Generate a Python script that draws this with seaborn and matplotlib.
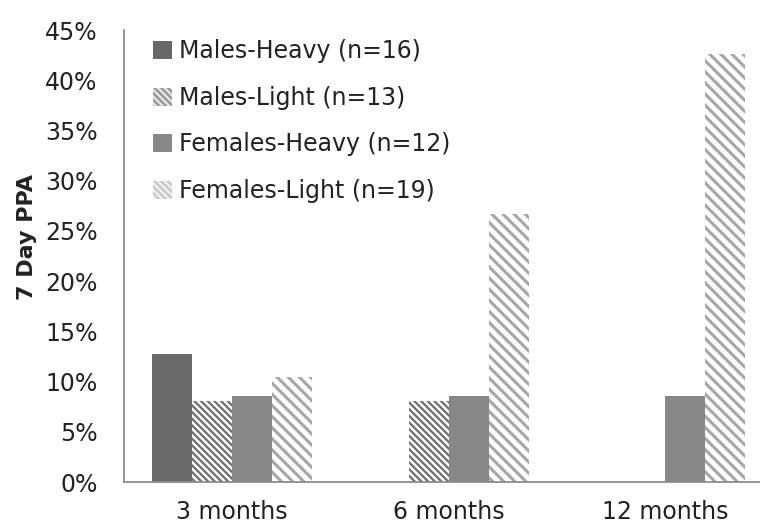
import matplotlib
matplotlib.use("Agg")
import matplotlib.pyplot as plt
from matplotlib.patches import Patch
from matplotlib.ticker import FuncFormatter
import pandas as pd
import seaborn as sns

# Follow-up time points and smoking groups
timepoints = ["3 months", "6 months", "12 months"]
groups = ["Males-Heavy (n=16)", "Males-Light (n=13)",
          "Females-Heavy (n=12)", "Females-Light (n=19)"]

# 7-day point prevalence abstinence (%) per group, one list per group
males_heavy = [12.7, 0.0, 0.0]
males_light = [8.1, 8.1, 0.0]
females_heavy = [8.6, 8.6, 8.6]
females_light = [10.5, 26.7, 42.6]

y_ticks = [0, 5, 10, 15, 20, 25, 30, 35, 40, 45]

rows = []
for grp, vals in zip(groups, [males_heavy, males_light, females_heavy, females_light]):
    for tp, v in zip(timepoints, vals):
        rows.append({"time": tp, "group": grp, "ppa": v})
df = pd.DataFrame(rows)

sns.set_style("white")
plt.rcParams["font.family"] = ["DejaVu Sans"]
plt.rcParams["hatch.linewidth"] = 1.8

fig = plt.figure(figsize=(7.6, 5.23), dpi=100)
ax = fig.add_axes([124 / 760, 1 - 482 / 523, 636 / 760, (482 - 30) / 523])

sns.barplot(data=df, x="time", y="ppa", hue="group", order=timepoints,
            hue_order=groups, width=0.74, gap=0, dodge=True,
            palette=["#666666", "#ffffff", "#858585", "#ffffff"],
            saturation=1, errorbar=None, legend=False, ax=ax)

# per-group fill/hatch styling
styles = [
    dict(face="#6a6a6a", edge="#6a6a6a", hatch=None, hlw=None),
    dict(face="#ffffff", edge="#6e6e6e", hatch="\\" * 5, hlw=1.6),
    dict(face="#878787", edge="#878787", hatch=None, hlw=None),
    dict(face="#ffffff", edge="#a6a6a6", hatch="\\" * 3, hlw=2.2),
]
for cont, st in zip(ax.containers, styles):
    for bar in cont:
        bar.set_facecolor(st["face"])
        bar.set_edgecolor(st["edge"])
        bar.set_linewidth(0)
        if st["hatch"]:
            bar.set_hatch(st["hatch"])
            if hasattr(bar, "set_hatch_linewidth"):
                bar.set_hatch_linewidth(st["hlw"])

ax.set_xlim(-0.5, -0.5 + 636 / 216.5)
ax.set_ylim(0, 45)
ax.set_yticks(y_ticks)
ax.yaxis.set_major_formatter(FuncFormatter(lambda v, p: f"{int(v)}%"))
ax.tick_params(axis="y", length=0, pad=19, labelsize=17, colors="#222222")
ax.tick_params(axis="x", length=0, pad=13, labelsize=17, colors="#222222")
ax.set_xlabel("")
ax.set_ylabel("7 Day PPA", fontsize=16, fontweight="bold", color="#222222")
ax.yaxis.set_label_coords(-0.137, 0.542)

for side in ["top", "right"]:
    ax.spines[side].set_visible(False)
for side in ["left", "bottom"]:
    ax.spines[side].set_color("#8c8c8c")
    ax.spines[side].set_linewidth(1.3)

handles = [
    Patch(facecolor="#686868", edgecolor="#686868", linewidth=0),
    Patch(facecolor="#e8e8e8", edgecolor="#9a9a9a", hatch="\\" * 5, linewidth=0),
    Patch(facecolor="#878787", edgecolor="#878787", linewidth=0),
    Patch(facecolor="#f2f2f2", edgecolor="#c8c8c8", hatch="\\" * 5, linewidth=0),
]
ax.legend(handles, groups, loc="upper left", bbox_to_anchor=(0.031, 1.0),
          frameon=False, fontsize=17, handlelength=0.8, handleheight=0.8,
          handletextpad=0.3, labelspacing=0.95, borderaxespad=0,
          labelcolor="#222222")

fig.savefig("out.png", dpi=100)
